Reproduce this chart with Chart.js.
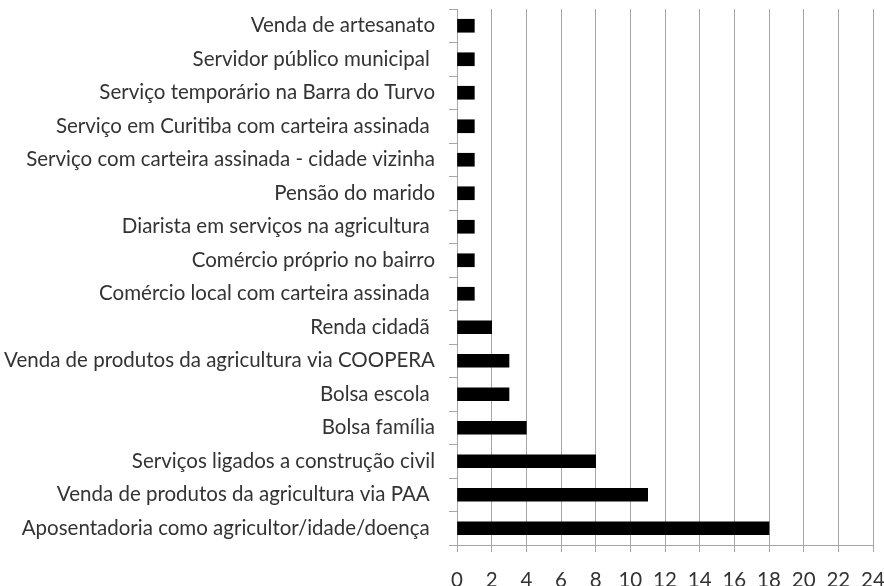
<!DOCTYPE html>
<html>
<head>
<meta charset="utf-8">
<script src="https://cdn.jsdelivr.net/npm/chart.js@4.4.1/dist/chart.umd.min.js"></script>
<style>
  body { margin: 0; background: #fff; }
  #wrap { width: 884px; height: 586px; }
</style>
</head>
<body>
<div id="wrap"><canvas id="rendaChart"></canvas></div>
<script>
// categorias, de cima para baixo
var categorias = [
    "Venda de artesanato",
    "Servidor público municipal ",
    "Serviço temporário na Barra do Turvo",
    "Serviço em Curitiba com carteira assinada ",
    "Serviço com carteira assinada - cidade vizinha",
    "Pensão do marido",
    "Diarista em serviços na agricultura ",
    "Comércio próprio no bairro",
    "Comércio local com carteira assinada ",
    "Renda cidadã ",
    "Venda de produtos da agricultura via COOPERA",
    "Bolsa escola ",
    "Bolsa família",
    "Serviços ligados a construção civil",
    "Venda de produtos da agricultura via PAA ",
    "Aposentadoria como agricultor/idade/doença "
];
var quantidades = [1, 1, 1, 1, 1, 1, 1, 1, 1, 2, 3, 3, 4, 8, 11, 18];
var eixoMin = 0;
var eixoMax = 24;
var passo = 2;

var cinza = "#a6a6a6";
var fonte = { family: "Lato", size: 20.5 };

var ctx = document.getElementById("rendaChart");
var chart = new Chart(ctx, {
    type: "bar",
    data: {
        labels: categorias,
        datasets: [{
            data: quantidades,
            backgroundColor: "#000000",
            borderWidth: 0,
            barThickness: 13
        }]
    },
    options: {
        indexAxis: "y",
        responsive: true,
        maintainAspectRatio: false,
        animation: false,
        layout: { padding: { top: 9, right: 11, left: 0, bottom: 0 } },
        plugins: {
            legend: { display: false },
            tooltip: { enabled: false }
        },
        scales: {
            x: {
                min: eixoMin,
                max: eixoMax,
                afterFit: function (scale) {
                    scale.height = 41;
                    scale.paddingLeft = 0;
                    scale.paddingRight = 0;
                },
                ticks: { stepSize: passo, color: "#333", font: fonte, padding: 16 },
                grid: { color: cinza, tickLength: 7 },
                border: { color: cinza }
            },
            y: {
                afterFit: function (scale) {
                    scale.width = 457;
                    scale.paddingTop = 0;
                    scale.paddingBottom = 0;
                },
                ticks: { color: "#333", font: fonte, padding: 14, autoSkip: false },
                grid: { drawOnChartArea: false, color: cinza, tickLength: 8 },
                border: { color: cinza }
            }
        }
    }
});
</script>
</body>
</html>
